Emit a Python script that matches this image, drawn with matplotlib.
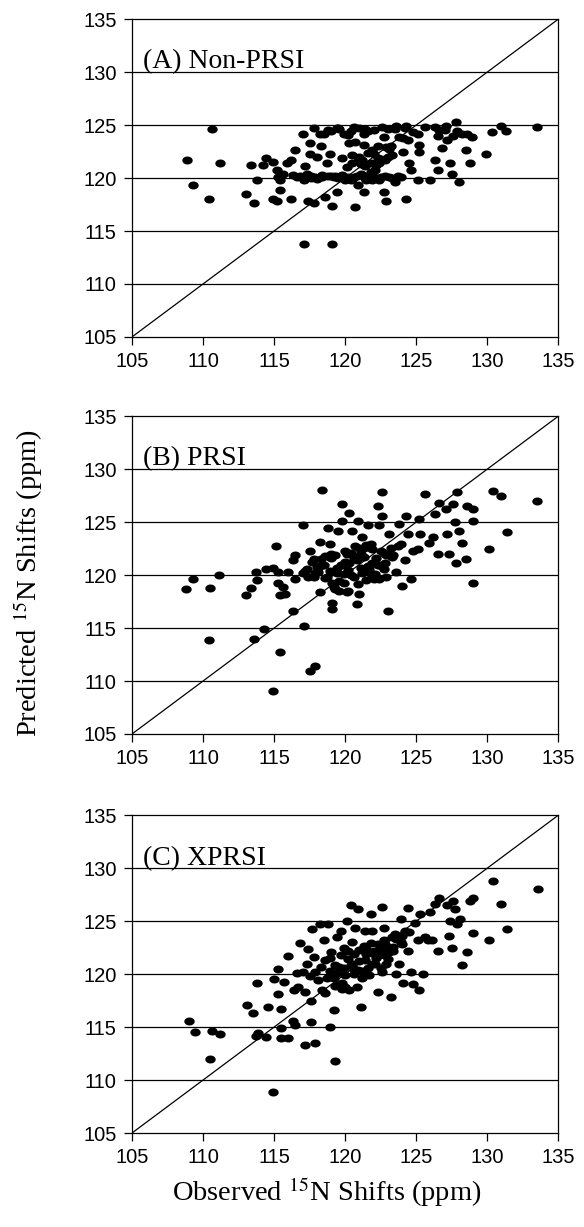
import matplotlib.pyplot as plt
import numpy as np
from matplotlib.path import Path

# (A) Non-PRSI: observed vs predicted 15N shifts (ppm)
obs_a = [108.9, 109.3, 110.6, 110.4, 111.2, 113.0, 113.4, 113.6, 113.8, 114.2,
         114.4, 114.9, 114.9, 115.2, 115.2, 115.3, 115.4, 115.4, 115.6, 115.9,
         116.2, 116.2, 116.5, 116.3, 116.6, 117.0, 117.1, 117.1, 117.2, 117.3,
         117.4, 117.5, 117.5, 117.8, 117.8, 117.9, 118.0, 118.2, 118.3, 118.4,
         118.5, 118.6, 118.7, 118.9, 119.0, 119.1, 119.1, 119.2, 119.4, 119.4,
         119.7, 119.8, 119.9, 120.0, 120.2, 120.3, 120.4, 120.5, 120.6, 120.6,
         120.7, 120.7, 120.9, 121.0, 121.1, 121.2, 121.3, 121.3, 121.3, 121.4,
         121.5, 121.6, 121.8, 121.9, 122.0, 122.1, 122.3, 122.4, 122.5, 122.6,
         122.7, 122.7, 122.8, 122.9, 123.1, 123.2, 123.3, 123.5, 123.6, 123.8,
         123.9, 124.1, 124.2, 124.3, 124.4, 124.5, 124.6, 125.2, 125.2, 125.1,
         125.1, 125.6, 126.0, 126.3, 126.3, 126.5, 126.5, 126.8, 127.2, 127.4,
         127.5, 127.8, 127.9, 128.0, 128.2, 128.5, 128.8, 128.9, 129.9, 130.3,
         131.0, 131.3, 133.5,
         116.8, 117.6, 118.2, 118.8, 119.5, 120.2, 120.8, 121.4, 122.0, 122.8,
         123.3, 118.8, 119.6, 120.4, 121.0, 122.0, 123.0, 124.8, 127.0, 120.1,
         120.9, 121.6, 122.2, 122.9, 121.8, 122.5, 123.0, 117.6, 118.4, 119.3,
         124.1, 124.3, 127.1, 127.6, 128.6,
         117.3, 118.0, 119.0, 119.8, 120.5, 121.2, 121.7, 122.4, 123.7, 121.1,
         121.9, 122.3, 123.1, 120.5, 119.5, 121.4, 123.5, 126.6]
pred_a = [121.7, 119.3, 124.6, 118.0, 121.4, 118.5, 121.2, 117.6, 119.8, 121.2,
          121.9, 121.5, 118.0, 120.8, 117.8, 120.1, 119.8, 118.9, 120.4, 121.4,
          121.7, 118.0, 122.6, 120.3, 120.1, 124.2, 119.8, 113.8, 121.1, 120.4,
          117.8, 123.3, 122.3, 124.7, 117.6, 120.1, 122.0, 124.2, 123.0, 120.1,
          124.2, 118.2, 121.4, 122.3, 124.4, 117.4, 113.8, 120.1, 124.7, 118.7,
          120.1, 121.9, 124.2, 119.8, 124.1, 123.3, 119.8, 121.4, 124.8, 120.1,
          117.3, 123.4, 119.3, 122.0, 120.4, 121.7, 124.2, 123.1, 118.7, 121.1,
          119.8, 124.4, 121.4, 119.8, 122.3, 120.8, 123.0, 121.4, 120.1, 124.8,
          123.9, 118.7, 121.7, 117.8, 120.1, 123.0, 122.2, 119.6, 124.9, 123.9,
          120.1, 122.5, 124.7, 118.0, 123.6, 121.4, 120.8, 123.1, 122.5, 119.8,
          124.2, 124.8, 119.8, 124.8, 121.7, 120.8, 124.0, 122.8, 123.6, 121.4,
          120.4, 125.3, 124.4, 119.6, 124.2, 122.6, 121.4, 123.9, 122.3, 124.3,
          124.9, 124.4, 124.8,
          120.2, 120.0, 120.1, 120.2, 120.0, 120.1, 120.2, 120.0, 120.1, 120.2,
          120.0, 124.5, 124.6, 124.4, 124.7, 124.5, 124.6, 124.3, 124.5, 121.0,
          121.6, 122.4, 121.2, 122.9, 120.6, 121.8, 122.0, 120.2, 120.3, 120.2,
          123.8, 124.9, 124.9, 124.0, 124.2,
          120.3, 119.9, 120.2, 120.3, 119.9, 120.3, 120.0, 119.8, 120.2, 121.3,
          122.6, 121.9, 122.7, 122.2, 124.7, 124.6, 124.6, 124.5]

# (B) PRSI
obs_b = [108.8, 109.3, 110.4, 110.5, 111.1, 113.0, 113.4, 113.7, 113.8, 113.6,
         114.3, 114.4, 114.9, 114.9, 115.1, 115.3, 115.3, 115.4, 115.4, 115.6,
         115.8, 116.0, 116.3, 116.3, 116.5, 116.5, 117.0, 117.1, 117.2, 117.5,
         117.5, 117.7, 117.8, 117.9, 118.1, 118.2, 118.2, 118.4, 118.5, 118.7,
         118.8, 118.9, 119.0, 119.1, 119.1, 119.1, 119.2, 119.4, 119.5, 119.6,
         119.8, 119.8, 119.9, 120.1, 120.1, 120.3, 120.3, 120.5, 120.6, 120.8,
         120.9, 121.0, 121.0, 121.1, 121.2, 121.3, 121.5, 121.6, 121.8, 121.9,
         122.1, 122.3, 122.4, 122.5, 122.6, 122.6, 122.8, 122.9, 123.0, 123.1,
         123.2, 123.3, 123.6, 123.8, 123.9, 124.0, 124.2, 124.3, 124.4, 124.6,
         124.8, 125.1, 125.2, 125.3, 125.6, 125.9, 126.2, 126.3, 126.5, 126.6,
         127.1, 127.2, 127.3, 127.6, 127.7, 127.8, 127.9, 128.0, 128.2, 128.5,
         128.6, 129.0, 129.0, 129.0, 130.1, 130.4, 131.0, 131.4, 133.5,
         117.3, 117.9, 118.3, 118.9, 119.3, 119.7, 120.2, 120.6, 121.1, 121.6,
         122.2, 122.7, 118.6, 119.4, 120.4, 121.4, 122.4, 123.4, 120.0, 120.8,
         121.7, 122.0, 119.9, 120.7, 121.3, 119.0, 118.0, 121.9, 122.9, 123.7,
         117.0, 117.4, 117.8, 118.2, 118.6, 119.0, 119.6, 120.0, 120.4, 120.8,
         121.2, 121.5, 121.9, 122.3, 122.7, 123.1, 119.3, 120.2, 120.9, 122.4]
pred_b = [118.7, 119.6, 113.9, 118.8, 120.0, 118.1, 118.8, 120.3, 119.5, 114.0,
          114.9, 120.6, 120.7, 109.1, 122.7, 120.3, 119.3, 118.1, 112.7, 118.9,
          118.2, 120.3, 116.6, 121.4, 121.9, 119.6, 124.7, 115.2, 120.4, 122.3,
          110.9, 121.2, 119.8, 111.4, 120.3, 123.1, 118.4, 128.0, 121.0, 119.8,
          124.4, 122.9, 122.0, 119.3, 117.4, 116.8, 118.9, 120.7, 124.2, 118.5,
          126.7, 125.1, 120.1, 122.0, 118.4, 125.9, 121.1, 124.2, 119.8, 117.3,
          125.1, 122.6, 118.2, 120.7, 123.6, 121.7, 119.5, 124.7, 122.9, 121.1,
          120.1, 126.5, 124.7, 122.3, 127.8, 125.6, 121.1, 119.8, 116.6, 123.9,
          122.6, 121.7, 120.3, 124.8, 122.9, 119.0, 121.4, 125.6, 123.9, 119.6,
          122.3, 122.5, 125.3, 123.9, 127.7, 123.0, 123.6, 125.8, 122.0, 126.8,
          126.2, 123.9, 122.0, 126.7, 125.0, 121.1, 127.8, 124.2, 123.0, 121.5,
          126.5, 126.2, 125.1, 119.3, 122.5, 127.9, 127.5, 124.1, 127.0,
          120.6, 120.2, 121.5, 120.4, 121.9, 121.0, 120.5, 121.6, 122.0, 120.9,
          121.6, 122.1, 119.7, 120.2, 120.0, 120.4, 121.0, 121.9, 122.3, 121.4,
          120.6, 119.6, 119.3, 122.7, 122.6, 121.6, 120.8, 122.5, 121.9, 122.7,
          120.2, 119.8, 121.5, 120.9, 121.8, 120.3, 119.4, 121.2, 122.1, 121.8,
          120.2, 122.8, 119.9, 121.0, 120.6, 121.9, 118.7, 118.5, 119.2, 119.6]

# (C) XPRSI
obs_c = [109.0, 109.4, 110.5, 110.6, 111.2, 113.1, 113.5, 113.7, 113.9, 113.8,
         114.4, 114.6, 114.9, 115.0, 115.3, 115.3, 115.5, 115.5, 115.5, 115.7,
         116.0, 116.0, 116.3, 116.4, 116.5, 116.6, 116.7, 116.8, 117.0, 117.2,
         117.2, 117.3, 117.4, 117.6, 117.6, 117.7, 117.8, 117.9, 117.9, 118.2,
         118.3, 118.4, 118.5, 118.6, 118.7, 118.8, 118.9, 119.0, 119.1, 119.2,
         119.3, 119.3, 119.4, 119.6, 119.7, 119.8, 119.9, 120.0, 120.1, 120.3,
         120.4, 120.5, 120.6, 120.7, 120.8, 120.9, 121.1, 121.2, 121.3, 121.4,
         121.5, 121.7, 121.8, 121.9, 122.0, 122.1, 122.2, 122.3, 122.5, 122.6,
         122.6, 122.7, 122.8, 122.9, 123.2, 123.3, 123.4, 123.6, 123.8, 123.9,
         124.0, 124.1, 124.2, 124.4, 124.4, 124.6, 124.8, 125.1, 125.2, 125.3,
         125.5, 125.8, 126.1, 126.3, 126.5, 126.6, 127.2, 127.3, 127.5, 127.6,
         127.7, 127.9, 128.1, 128.2, 128.6, 128.8, 129.0, 129.0, 130.1, 130.4,
         131.0, 131.4, 133.6,
         118.9, 119.4, 119.9, 120.4, 120.9, 121.4, 121.9, 122.4, 122.9, 123.4,
         123.9, 119.2, 119.8, 120.6, 121.6, 122.2, 122.8, 123.1, 121.0, 122.0,
         118.1, 117.5, 120.2, 121.8, 123.6, 124.5, 125.6, 126.0, 127.4, 124.9,
         118.9, 119.3, 119.7, 120.2, 120.6, 121.0, 121.5, 121.9, 122.3, 122.7,
         123.1, 123.5, 124.0, 119.5, 120.0, 118.6, 121.2, 122.5, 123.0, 120.5]
pred_c = [115.6, 114.5, 112.0, 114.6, 114.3, 117.1, 116.3, 114.2, 114.4, 119.2,
          114.1, 116.9, 108.9, 119.5, 120.5, 118.1, 116.7, 114.9, 114.0, 119.3,
          114.0, 121.7, 115.6, 118.5, 115.2, 120.1, 118.8, 122.9, 120.2, 118.3,
          113.3, 121.0, 122.4, 115.5, 117.5, 124.3, 121.6, 120.2, 113.5, 124.7,
          120.7, 118.5, 123.2, 121.3, 119.6, 124.7, 115.0, 122.1, 119.7, 116.6,
          111.8, 118.9, 123.5, 120.7, 124.1, 118.6, 122.5, 119.9, 125.0, 118.5,
          126.5, 121.0, 121.9, 124.4, 118.8, 126.1, 116.9, 120.3, 122.7, 124.1,
          121.9, 119.9, 125.7, 124.1, 122.2, 121.0, 121.9, 118.3, 122.5, 126.3,
          120.2, 124.4, 122.8, 121.0, 117.8, 123.5, 122.2, 120.0, 121.0, 125.2,
          122.8, 119.2, 124.1, 126.2, 122.2, 120.2, 119.1, 123.2, 118.5, 125.7,
          120.0, 123.2, 123.2, 126.6, 122.2, 127.2, 126.5, 123.6, 122.5, 126.9,
          126.1, 124.7, 125.2, 120.9, 122.1, 126.9, 127.2, 123.9, 123.2, 128.8,
          126.6, 124.3, 128.0,
          120.3, 120.1, 120.6, 120.9, 120.4, 121.3, 122.0, 121.8, 122.4, 122.6,
          123.0, 119.6, 119.2, 120.0, 120.6, 121.5, 121.8, 122.1, 122.3, 122.0,
          119.4, 119.8, 121.4, 122.9, 123.3, 124.0, 123.5, 125.9, 125.0, 124.8,
          121.5, 120.9, 121.8, 122.2, 120.5, 121.2, 122.4, 121.0, 122.8, 123.2,
          122.5, 123.8, 123.6, 119.0, 118.8, 118.2, 119.6, 120.6, 121.4, 123.0]

panels = [("(A) Non-PRSI", obs_a, pred_a, 0.7254),
          ("(B) PRSI", obs_b, pred_b, 0.4018),
          ("(C) XPRSI", obs_c, pred_c, 0.0766)]
ticks = [105, 110, 115, 120, 125, 130, 135]

plt.rcParams['mathtext.fontset'] = 'stix'
serif = 'Liberation Serif'
sans = 'Liberation Sans'

# slightly flattened dot, like the scanned markers
t = np.linspace(0, 2 * np.pi, 40)
dot = Path(np.column_stack([1.3 * np.cos(t), np.sin(t)]))

fig = plt.figure(figsize=(5.84, 12.27), dpi=100)

for label, xs, ys, bottom in panels:
    ax = fig.add_axes([0.226, bottom, 0.730, 0.259])
    ax.set_xlim(105, 135)
    ax.set_ylim(105, 135)
    for y in ticks[1:-1]:
        ax.axhline(y, color='black', lw=0.9, zorder=1)
    ax.plot([105, 135], [105, 135], color='black', lw=0.9, zorder=2)
    ax.scatter(xs, ys, s=56, marker=dot, color='black', linewidths=0, zorder=3)
    ax.set_xticks(ticks)
    ax.set_yticks(ticks)
    ax.tick_params(direction='out', length=6, width=0.9, labelsize=14.5, pad=5)
    for lab in ax.get_xticklabels() + ax.get_yticklabels():
        lab.set_family(sans)
    for sp in ax.spines.values():
        sp.set_linewidth(0.9)
    ax.text(0.026, 0.865, label, transform=ax.transAxes, ha='left', va='center',
            fontsize=20, family=serif)

fig.text(0.048, 0.525, r'Predicted $^{15}$N Shifts (ppm)', rotation=90,
         ha='center', va='center', fontsize=20.5, family=serif)
fig.text(0.56, 0.0285, r'Observed $^{15}$N Shifts (ppm)', ha='center', va='center',
         fontsize=20.5, family=serif)

fig.savefig('out.png', dpi=100)
